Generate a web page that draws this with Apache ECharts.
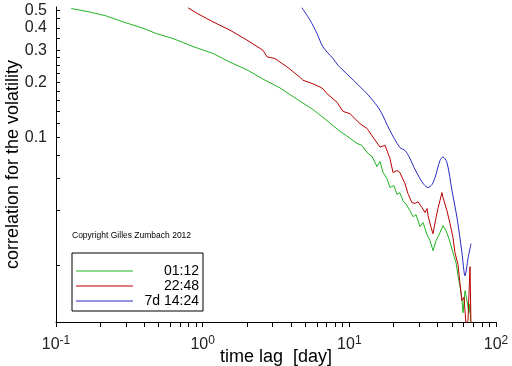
<!DOCTYPE html>
<html>
<head>
<meta charset="utf-8">
<script src="https://cdn.jsdelivr.net/npm/echarts@6/dist/echarts.min.js"></script>
<style>
  html, body { margin: 0; padding: 0; background: #fff; }
  #main { width: 512px; height: 366px; }
</style>
</head>
<body>
<div id="main"></div>
<script>
// series names as shown in the legend box
const seriesNames = ["01:12", "22:48", "7d 14:24"];

// time lag [day] and correlation
const greenLag = [0.127, 0.168, 0.219, 0.286, 0.398, 0.481, 0.628, 0.873, 1.054, 1.176, 1.536, 2.006, 2.578, 3.367, 4.40, 5.56, 6.61, 7.74, 8.64, 9.6, 11.28, 12.2, 13.19, 14.27, 15.44, 16.18, 16.97, 18.06, 18.93, 20.16, 21.13, 22.1, 23.2, 24.7, 25.9, 27.2, 28.5, 30.3, 31.8, 33.9, 35.5, 37.2, 39.0, 41.5, 43.5, 45.6, 47.8, 50.9, 53.4, 55.1, 56.8, 58.6, 59.6, 61.5, 63.4, 65.4, 66.5, 67.0];
const greenCorr = [0.51, 0.489, 0.465, 0.431, 0.396, 0.372, 0.349, 0.314, 0.298, 0.289, 0.259, 0.235, 0.209, 0.187, 0.162, 0.1435, 0.129, 0.116, 0.108, 0.102, 0.0927, 0.0904, 0.0827, 0.0786, 0.0692, 0.0738, 0.0642, 0.0595, 0.0531, 0.0544, 0.0486, 0.0498, 0.045, 0.0423, 0.0396, 0.0367, 0.0377, 0.0324, 0.0341, 0.0292, 0.0271, 0.0239, 0.0271, 0.030, 0.0328, 0.0308, 0.0278, 0.0233, 0.0205, 0.0174, 0.0153, 0.0127, 0.0109, 0.0144, 0.0127, 0.0109, 0.0122, 0.0095];

const redLag = [0.794, 0.915, 1.176, 1.536, 2.006, 2.578, 2.746, 3.113, 3.758, 4.61, 4.83, 5.65, 6.31, 6.61, 7.04, 8.24, 9.05, 10.1, 11.82, 13.19, 14.5, 16.18, 17.5, 18.93, 19.85, 21.13, 22.1, 23.96, 25.1, 26.7, 28.0, 29.4, 31.3, 32.8, 33.9, 34.4, 36.1, 37.2, 39.0, 40.2, 41.5, 42.8, 43.5, 46.3, 48.6, 50.9, 52.5, 55.1, 56.8, 58.6, 60.5, 62.4, 64.4, 66.5, 67.5];
const redCorr = [0.515, 0.480, 0.431, 0.388, 0.342, 0.301, 0.277, 0.271, 0.244, 0.214, 0.206, 0.197, 0.189, 0.185, 0.174, 0.156, 0.139, 0.135, 0.119, 0.112, 0.1004, 0.0885, 0.0904, 0.0767, 0.0642, 0.0658, 0.0642, 0.0558, 0.0492, 0.0439, 0.0434, 0.0444, 0.0412, 0.0387, 0.0407, 0.0372, 0.032, 0.0296, 0.0363, 0.0407, 0.045, 0.0498, 0.0468, 0.0396, 0.0336, 0.0282, 0.0233, 0.020, 0.0157, 0.0127, 0.0133, 0.0095, 0.0099, 0.0195, 0.0095];

const blueLag = [4.75, 5.39, 6.02, 6.61, 7.74, 8.37, 9.05, 11.28, 13.83, 16.18, 18.93, 22.1, 23.96, 25.9, 27.6, 30.3, 32.3, 34.4, 36.6, 38.4, 41.5, 43.5, 46.3, 50.1, 54.2, 58.6, 61.5, 64.4, 67.5];
const blueCorr = [0.515, 0.4405, 0.372, 0.314, 0.271, 0.249, 0.234, 0.197, 0.1667, 0.141, 0.109, 0.0881, 0.0848, 0.0767, 0.0684, 0.0595, 0.0551, 0.0531, 0.0551, 0.0602, 0.0747, 0.0781, 0.0729, 0.0511, 0.0363, 0.0233, 0.0174, 0.0216, 0.0261];

// axis ticks
const xLabels = [0.1, 1, 10, 100];
const xTicks = [0.1, 0.2, 0.3, 0.4, 0.5, 0.6, 0.7, 0.8, 0.9, 1, 2, 3, 4, 5, 6, 7, 8, 9, 10, 20, 30, 40, 50, 60, 70, 80, 90, 100];
const yLabels = [0.1, 0.2, 0.3, 0.4, 0.5];
const yTicks = [0.02, 0.04, 0.06, 0.08, 0.1, 0.12, 0.14, 0.16, 0.18, 0.2, 0.225, 0.25, 0.275, 0.3, 0.35, 0.4, 0.45, 0.5];

const FONT = "Liberation Sans";
// thin line legend icon (tiny corner dots keep the full item height)
const LINE_ICON = "path://M0,0h0.01v0.01h-0.01z M0,13.99h0.01v0.01h-0.01z M0,6.5h57v1h-57z";

function zip(xs, ys) {
  return xs.map((x, i) => [x, ys[i]]);
}

const myChart = echarts.init(document.getElementById("main"));

const option = {
  animation: false,
  color: ["#20b420", "#b80000", "#2828c0"],
  grid: { left: 56, right: 16, top: 7, bottom: 44, containLabel: false, outerBoundsMode: "none" },
  legend: {
    orient: "vertical",
    left: 72,
    top: 253,
    padding: [11, 4, 3, 4],
    itemWidth: 57,
    itemHeight: 14,
    itemGap: 1,
    borderColor: "#000",
    borderWidth: 1,
    selectedMode: false,
    icon: LINE_ICON,
    data: seriesNames,
    formatter: (name) => "{n|" + name + "}",
    textStyle: {
      fontFamily: FONT,
      fontSize: 14,
      color: "#000",
      rich: { n: { width: 61, align: "right", fontFamily: FONT, fontSize: 14, color: "#000" } },
    },
  },
  graphic: [
    {
      type: "text",
      left: 72,
      top: 231,
      style: { text: "Copyright Gilles Zumbach 2012", fontFamily: FONT, fontSize: 8.5, fill: "#000" },
    },
  ],
  xAxis: {
    type: "log",
    logBase: 10,
    min: 0.1,
    max: 100,
    name: "time lag  [day]",
    nameLocation: "middle",
    nameGap: 26,
    nameMoveOverlap: false,
    nameTextStyle: { fontFamily: FONT, fontSize: 18, color: "#000" },
    axisLine: { show: true, onZero: false, lineStyle: { color: "#000", width: 1 } },
    axisTick: { customValues: xTicks, length: 5, lineStyle: { color: "#000" } },
    axisLabel: {
      customValues: xLabels,
      margin: 13,
      formatter: (v) => "{b|10}{s|" + Math.round(Math.log10(v)) + "}",
      rich: {
        b: { fontFamily: FONT, fontSize: 16, color: "#222", lineHeight: 20 },
        s: { fontFamily: FONT, fontSize: 12, color: "#222", verticalAlign: "top", lineHeight: 12 },
      },
    },
    splitLine: { show: false },
  },
  yAxis: {
    type: "log",
    logBase: 10,
    min: 0.0097,
    max: 0.52,
    name: "correlation for the volatility",
    nameLocation: "middle",
    nameGap: 34,
    nameMoveOverlap: false,
    nameTextStyle: { fontFamily: FONT, fontSize: 18, color: "#000" },
    axisLine: { show: true, onZero: false, lineStyle: { color: "#000", width: 1 } },
    axisTick: { inside: true, customValues: yTicks, length: 4, lineStyle: { color: "#000" } },
    axisLabel: {
      customValues: yLabels,
      margin: 9,
      fontFamily: FONT,
      fontSize: 16,
      color: "#222",
      formatter: (v) => v.toFixed(1),
    },
    splitLine: { show: false },
  },
  series: [
    {
      name: seriesNames[0],
      type: "line",
      symbol: "none",
      showSymbol: false,
      lineStyle: { width: 1 },
      data: zip(greenLag, greenCorr),
    },
    {
      name: seriesNames[1],
      type: "line",
      symbol: "none",
      showSymbol: false,
      lineStyle: { width: 1 },
      data: zip(redLag, redCorr),
    },
    {
      name: seriesNames[2],
      type: "line",
      symbol: "none",
      showSymbol: false,
      smooth: 0.3,
      lineStyle: { width: 1 },
      data: zip(blueLag, blueCorr),
    },
  ],
};

myChart.setOption(option);
</script>
</body>
</html>
